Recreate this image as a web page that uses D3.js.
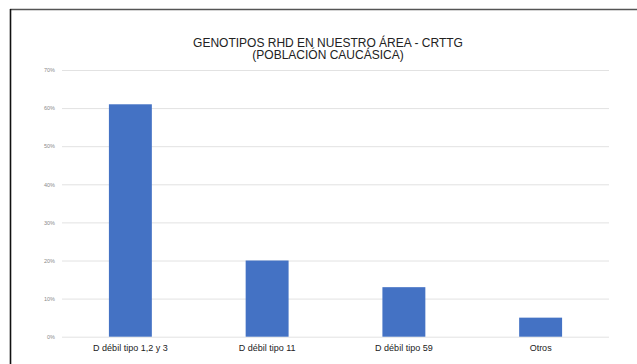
<!DOCTYPE html>
<html>
<head>
<meta charset="utf-8">
<script src="https://cdn.jsdelivr.net/npm/d3@7"></script>
<style>
  html, body { margin: 0; padding: 0; background: #fff; }
  svg { display: block; font-family: "Liberation Sans", Arial, sans-serif; }
</style>
</head>
<body>
<svg id="chart" width="637" height="364"></svg>
<script>
const categories = ["D débil tipo 1,2 y 3", "D débil tipo 11", "D débil tipo 59", "Otros"];
const values = [0.61, 0.20, 0.13, 0.05];
const yTicks = [0, 0.1, 0.2, 0.3, 0.4, 0.5, 0.6, 0.7];
const titleLines = ["GENOTIPOS RHD EN NUESTRO ÁREA - CRTTG", "(POBLACIÓN CAUCÁSICA)"];

const svg = d3.select("#chart");
const W = 637, H = 364;
const plot = { left: 62, right: 609, top: 70, bottom: 336.7 };

// frame
svg.append("line").attr("x1", 10).attr("x2", W).attr("y1", 9.5).attr("y2", 9.5)
  .attr("stroke", "#555").attr("stroke-width", 1.6);
svg.append("line").attr("x1", 10.5).attr("x2", 10.5).attr("y1", 9).attr("y2", H)
  .attr("stroke", "#111").attr("stroke-width", 1.6);

const x = d3.scaleBand().domain(categories).range([plot.left, plot.right])
  .paddingInner(0.686).paddingOuter(0.343);
const y = d3.scaleLinear().domain([0, 0.7]).range([plot.bottom, plot.top]);

// grid + y labels
const yAxis = d3.axisLeft(y).tickValues(yTicks).tickFormat(d3.format(".0%"))
  .tickSize(-(plot.right - plot.left)).tickPadding(7);
const gy = svg.append("g").attr("transform", `translate(${plot.left},0)`).call(yAxis);
gy.select(".domain").remove();
gy.selectAll(".tick line").attr("stroke", "#e2e2e2").attr("stroke-width", 1);
gy.selectAll(".tick text").attr("fill", "#8a8a8a").attr("font-size", 5.5)
  .attr("font-family", "'Liberation Sans', Arial, sans-serif");

// bars
svg.append("g").selectAll("rect").data(values).join("rect")
  .attr("x", (d, i) => x(categories[i]))
  .attr("width", x.bandwidth())
  .attr("y", d => y(d))
  .attr("height", d => y(0) - y(d))
  .attr("fill", "#4472c4");

// x labels
const xAxis = d3.axisBottom(x).tickSize(0).tickPadding(8);
const gx = svg.append("g").attr("transform", `translate(0,${plot.bottom})`).call(xAxis);
gx.select(".domain").remove();
gx.selectAll(".tick text").attr("fill", "#222").attr("font-size", 9)
  .attr("font-family", "'Liberation Sans', Arial, sans-serif");

// title
svg.append("g").selectAll("text").data(titleLines).join("text")
  .attr("x", 328).attr("y", (d, i) => 46.5 + i * 12.7)
  .attr("text-anchor", "middle").attr("font-size", 12).attr("fill", "#222")
  .text(d => d);
</script>
</body>
</html>
